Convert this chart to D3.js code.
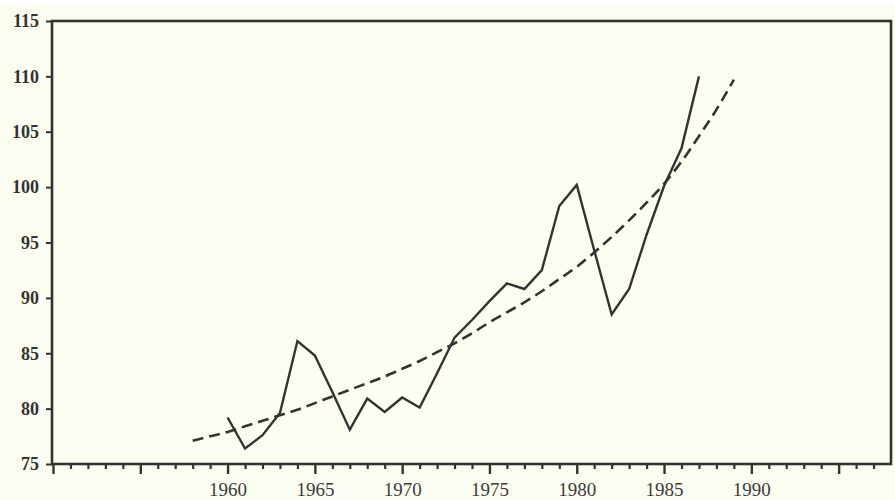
<!DOCTYPE html>
<html>
<head>
<meta charset="utf-8">
<script src="https://cdn.jsdelivr.net/npm/d3@7"></script>
<style>
  html, body { margin: 0; padding: 0; background: #ffffff; }
  svg { display: block; }
</style>
</head>
<body>
<script>
// observed index, 1960-1987 (solid line)
const years = d3.range(1960, 1988);
const values = [
  79.2, 76.4, 77.6, 79.6, 86.1, 84.8, 81.5, 78.1, 80.9, 79.7,
  81.0, 80.1, 83.2, 86.4, 88.0, 89.7, 91.3, 90.8, 92.5, 98.3,
  100.2, 94.3, 88.5, 90.8, 95.7, 100.1, 103.5, 110.0
];

// fitted trend, 1958-1989 (dashed line)
const trendYears = d3.range(1958, 1990);
const trendValues = [
  77.1, 77.5, 77.9, 78.4, 78.9, 79.4, 79.9, 80.5, 81.1, 81.7,
  82.3, 82.9, 83.6, 84.3, 85.1, 85.9, 86.8, 87.8, 88.7, 89.6,
  90.6, 91.7, 92.8, 94.1, 95.5, 97.0, 98.6, 100.3, 102.3, 104.6,
  107.0, 109.7
];

const yTicks = [75, 80, 85, 90, 95, 100, 105, 110, 115];
const xMajor = [1950, 1955, 1960, 1965, 1970, 1975, 1980, 1985, 1990, 1995];
const xLabels = [1960, 1965, 1970, 1975, 1980, 1985, 1990];
const xMinor = d3.range(1951, 1998).filter((d) => d % 5 !== 0);

const width = 895;
const height = 500;
const ink = "#333333";
const paper = "#fcfdf1";
const font = "'Liberation Serif', 'DejaVu Serif', serif";

const x = d3.scaleLinear().domain([1950, 1998]).range([53, 891]);
const y = d3.scaleLinear().domain([75, 115]).range([464, 21]);

const svg = d3
  .select("body")
  .append("svg")
  .attr("width", width)
  .attr("height", height);

// scanned paper
svg
  .append("rect")
  .attr("x", 0)
  .attr("y", 6)
  .attr("width", width)
  .attr("height", height - 6)
  .attr("fill", paper);

// minor year ticks
svg
  .append("g")
  .attr("transform", `translate(0,${y(75)})`)
  .call(
    d3.axisBottom(x).tickValues(xMinor).tickSize(5).tickFormat("")
  )
  .call((g) => g.select(".domain").remove())
  .call((g) => g.selectAll("line").attr("stroke", ink).attr("stroke-width", 2.2));

// major ticks + labels
svg
  .append("g")
  .attr("transform", `translate(0,${y(75)})`)
  .call(
    d3
      .axisBottom(x)
      .tickValues(xMajor)
      .tickSize(10)
      .tickPadding(9)
      .tickFormat((d) => (xLabels.includes(d) ? d : ""))
  )
  .call((g) => g.select(".domain").remove())
  .call((g) => g.selectAll("line").attr("stroke", ink).attr("stroke-width", 2.4))
  .call((g) =>
    g
      .selectAll("text")
      .attr("fill", "#3c3c3c")
      .attr("font-family", font)
      .attr("font-size", 19)
  );

// y axis
svg
  .append("g")
  .attr("transform", `translate(${x.range()[0] - 1},0)`)
  .call(d3.axisLeft(y).tickValues(yTicks).tickSize(6).tickPadding(7))
  .call((g) => g.select(".domain").remove())
  .call((g) => g.selectAll("line").attr("stroke", ink).attr("stroke-width", 2))
  .call((g) =>
    g
      .selectAll("text")
      .attr("fill", ink)
      .attr("font-family", font)
      .attr("font-weight", "bold")
      .attr("font-size", 18)
  );

// frame
svg
  .append("rect")
  .attr("x", x.range()[0] - 1)
  .attr("y", y(115))
  .attr("width", x.range()[1] - x.range()[0] + 1)
  .attr("height", y(75) - y(115))
  .attr("fill", "none")
  .attr("stroke", ink)
  .attr("stroke-width", 2.6);

const line = d3
  .line()
  .x((d) => x(d[0]))
  .y((d) => y(d[1]));

// trend (dashed)
svg
  .append("path")
  .datum(d3.zip(trendYears, trendValues))
  .attr("fill", "none")
  .attr("stroke", ink)
  .attr("stroke-width", 2.6)
  .attr("stroke-dasharray", "11,6")
  .attr("d", line.curve(d3.curveMonotoneX));

// observed (solid)
svg
  .append("path")
  .datum(d3.zip(years, values))
  .attr("fill", "none")
  .attr("stroke", ink)
  .attr("stroke-width", 2.4)
  .attr("stroke-linejoin", "miter")
  .attr("d", line.curve(d3.curveLinear));
</script>
</body>
</html>
